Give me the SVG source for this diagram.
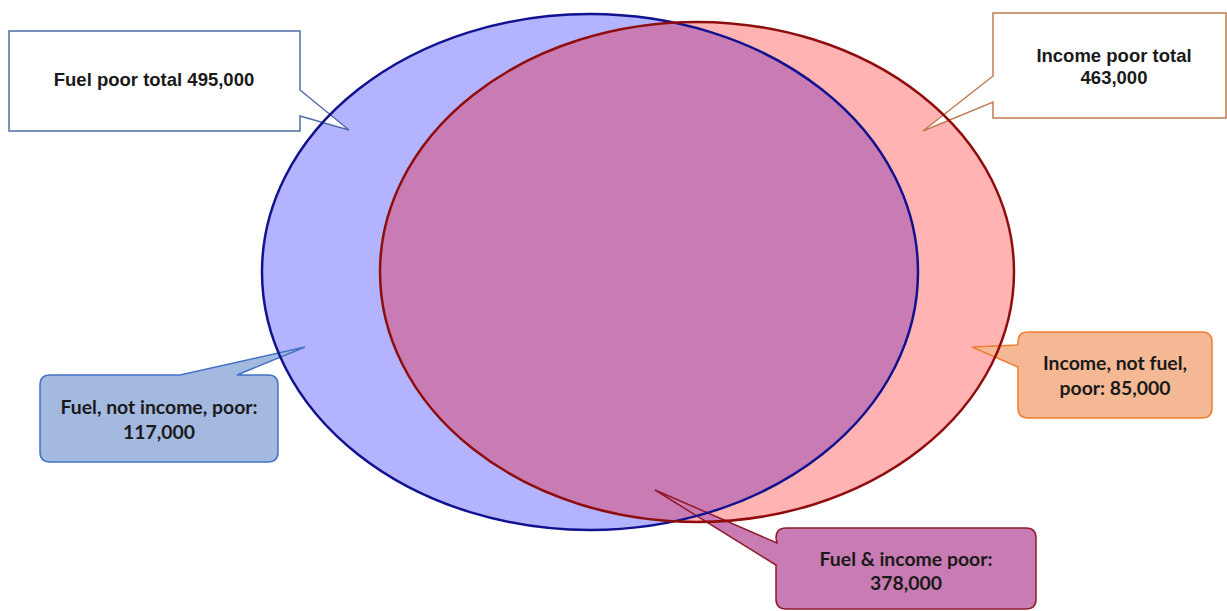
<svg xmlns="http://www.w3.org/2000/svg" width="1227" height="611" viewBox="0 0 1227 611">
<style>
.t1{font-family:"Liberation Sans",Arial,sans-serif;font-weight:bold;font-size:18.5px;fill:#1a1a1a;text-anchor:middle}
.t2{font-family:Lato,"Open Sans",sans-serif;font-weight:bold;font-size:19.4px;fill:#1a1a1a;text-anchor:middle}
.blueline{fill:none;stroke:#12128f;stroke-width:2.5}
.redline{fill:none;stroke:#8f0d0d;stroke-width:2.5}
</style>
<defs>
<clipPath id="clipBlue"><ellipse cx="590" cy="272" rx="328" ry="258"/></clipPath>
</defs>
<g id="fuel-poor-set">
<ellipse cx="590" cy="272" rx="328" ry="258" fill="#b3b3ff"/>
</g>
<g id="income-poor-set">
<ellipse cx="697" cy="272" rx="317" ry="250" fill="#ffb3b3"/>
<ellipse cx="697" cy="272" rx="317" ry="250" fill="#c97cb3" clip-path="url(#clipBlue)"/>
</g>
<g id="connectors"></g>
<g id="fuel-poor-total">
<path d="M9,31 L300,31 L300,90 L349,130 L300,116 L300,131 L9,131 Z" fill="#ffffff" stroke="#4f6ea8" stroke-width="1.5"/>
<text class="t1" x="154" y="86">Fuel poor total 495,000</text>
</g>
<g id="income-poor-total">
<path d="M993,13 L1226,13 L1226,118 L993,118 L993,102 L923,131 L993,76 Z" fill="#ffffff" stroke="#c07c50" stroke-width="1.5"/>
<text class="t1" x="1114" y="62">Income poor total</text>
<text class="t1" x="1114" y="84">463,000</text>
</g>
<g id="fuel-not-income">
<path d="M50,375 L180,375 L305,347 L237,375 L268,375 Q278,375 278,385 L278,452 Q278,462 268,462 L50,462 Q40,462 40,452 L40,385 Q40,375 50,375 Z" fill="#a3b9e0" stroke="#4472c4" stroke-width="1.5"/>
<text class="t2" x="159" y="414">Fuel, not income, poor:</text>
<text class="t2" x="159" y="439">117,000</text>
</g>
<g id="income-not-fuel">
<path d="M1028,332 L1202,332 Q1212,332 1212,342 L1212,408 Q1212,418 1202,418 L1028,418 Q1018,418 1018,408 L1018,367 L972,347 L1018,345 L1018,342 Q1018,332 1028,332 Z" fill="#f4b994" stroke="#ed7d31" stroke-width="1.5"/>
<text class="t2" x="1115" y="370">Income, not fuel,</text>
<text class="t2" x="1115" y="395">poor: 85,000</text>
</g>
<g id="fuel-and-income">
<path d="M786,528 L1026,528 Q1036,528 1036,538 L1036,599 Q1036,609 1026,609 L786,609 Q776,609 776,599 L776,565 L655,490 L777,543 L776,538 Q776,528 786,528 Z" fill="#c97cb3" stroke="#8f1a2a" stroke-width="1.5"/>
<text class="t2" x="906" y="566">Fuel &amp; income poor:</text>
<text class="t2" x="906" y="590">378,000</text>
</g>
<g id="set-outlines">
<ellipse class="blueline" cx="590" cy="272" rx="328" ry="258"/>
<ellipse class="redline" cx="697" cy="272" rx="317" ry="250"/>
</g>
</svg>
